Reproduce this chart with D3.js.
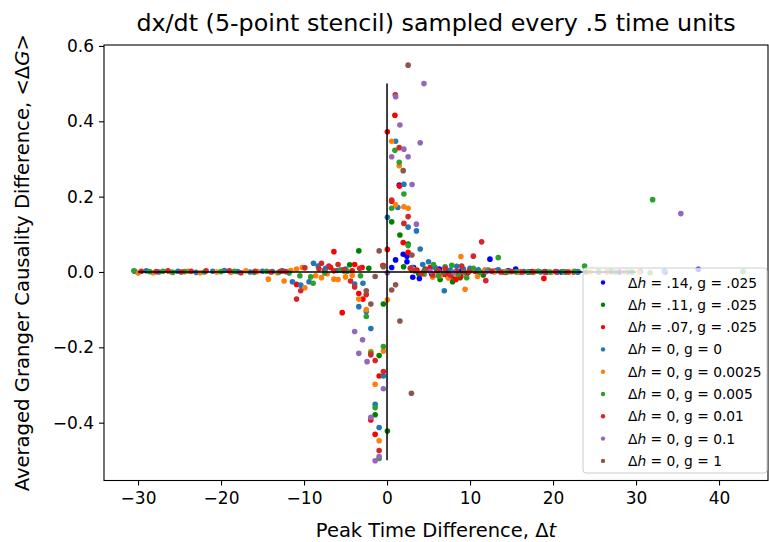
<!DOCTYPE html>
<html>
<head>
<meta charset="utf-8">
<script src="https://cdn.jsdelivr.net/npm/d3@7"></script>
<style>
  body { margin: 0; background: #fff; }
  text { font-family: "DejaVu Sans", sans-serif; }
</style>
</head>
<body>
<div id="chart"></div>
<script>

// peak time difference (x) vs averaged GC difference (y), one list per run
var ptsH14 = [[0.56,0.012],[1.03,0.032],[1.47,0.231],[1.95,0.047],[2.4,0.027],[2.4,0.042],[3.1,-0.014],[3.2,0.012],[3.9,-0.017],
  [4.6,0.004],[5.4,-0.006],[6.3,0.008],[7.2,0.002],[7.4,-0.011],[8.1,-0.01],[9.0,0.004],[10.2,0.006],[11.1,0.0],[12.4,0.034],
  [13.3,0.004],[14.6,0.003],[15.5,0.008],[16.0,0.0],[17.5,0.001],[19.2,0.0],[21.0,0.0],[23.0,0.0],[25.5,0.0],[28.0,0.0],
  [30.5,0.001],[33.5,0.0],[37.5,0.007]];

var ptsH11 = [[-5.2,0.003],[-4.5,0.019],[-3.4,0.056],[-2.2,0.01],[-0.44,-0.085],[-0.95,-0.222],[-1.43,-0.379],[0.04,-0.422],
  [0.56,0.133],[1.55,0.098],[2.54,0.074],[2.0,0.014],[3.0,0.005],[3.8,-0.004],[4.6,0.008],[5.5,-0.012],[6.4,-0.02],
  [7.3,-0.01],[7.9,-0.026],[8.8,-0.015],[9.6,-0.004],[10.5,0.005],[11.6,-0.008],[12.8,0.002],[14.0,0.0],[15.5,0.001],
  [17.2,0.0],[19.0,0.001],[21.5,0.0],[24.0,0.0],[27.0,0.001],[29.5,0.0]];

var ptsH07 = [[0.95,0.416],[0.04,0.372],[1.5,0.228],[0.56,0.188],[1.95,0.078],[2.54,0.052],[-6.4,0.054],[0.04,0.06],
  [-3.9,0.02],[-10.9,-0.033],[-5.4,-0.108],[-3.4,-0.057],[-2.9,-0.072],[-0.95,-0.276],[-1.95,-0.393],[-1.43,-0.431],
  [18.9,-0.017],[-7.5,0.005],[-6.8,0.012],[-4.2,0.003],[-3.0,0.012],[-0.5,0.017],[3.0,0.01],[3.6,0.005],[4.3,-0.002],
  [5.2,0.012],[6.0,0.003],[6.9,-0.006],[7.6,-0.014],[8.3,-0.02],[8.9,-0.012],[9.7,-0.003],[10.6,0.002],[11.7,0.0],
  [13.0,0.002],[14.3,-0.001],[15.7,0.001],[17.0,0.0],[20.5,0.0],[22.5,0.0]];

var ptsG0 = [[-30.4,0.002],[-29.0,0.003],[-27.5,0.0],[-25.2,0.002],[-23.0,-0.001],[-21.0,0.002],[-19.6,0.004],[-18.0,0.001],
  [-16.5,0.0],[-15.0,0.002],[-13.8,0.001],[-12.6,0.003],[-11.4,-0.026],[-10.4,-0.035],[-9.4,-0.026],[-8.86,0.023],
  [-8.3,0.016],[-7.4,0.01],[-6.0,0.004],[-5.0,0.008],[-3.9,-0.032],[-2.9,-0.03],[-3.4,-0.092],[-2.5,-0.105],[-1.95,-0.15],
  [-0.44,-0.276],[-1.43,-0.351],[-0.95,-0.413],[0.04,0.145],[1.03,0.347],[1.3,0.171],[2.03,0.233],[2.54,0.119],
  [3.54,0.109],[4.0,0.061],[5.0,0.027],[3.0,0.012],[4.3,0.02],[5.8,0.012],[6.9,-0.05],[7.6,0.005],[8.4,0.015],[9.2,0.008],
  [10.0,0.01],[11.0,0.006],[12.0,0.004],[13.4,0.006],[14.8,0.002],[16.5,0.001],[18.5,0.0],[20.5,0.0],[23.0,0.001],
  [26.5,0.001],[29.0,0.0],[33.4,0.003]];

var ptsG0025 = [[-30.0,-0.003],[-28.2,-0.002],[-26.0,0.0],[-24.0,0.002],[-22.5,-0.002],[-20.5,0.0],[-18.8,-0.001],[-17.0,0.003],
  [-15.6,0.001],[-14.3,-0.019],[-13.2,-0.002],[-12.4,-0.024],[-11.6,0.004],[-10.9,0.008],[-10.2,0.012],[-9.9,-0.042],
  [-8.6,-0.01],[-7.9,-0.015],[-7.2,-0.005],[-6.4,-0.019],[-5.9,-0.02],[-5.0,-0.013],[-4.2,-0.009],[-3.4,-0.072],
  [-2.5,-0.1],[-1.95,-0.211],[-0.44,-0.21],[-1.43,-0.298],[-0.95,-0.448],[0.04,-0.074],[0.56,0.347],[1.47,0.282],
  [1.03,0.178],[2.03,0.173],[2.54,0.169],[3.2,0.006],[4.5,-0.006],[5.5,-0.014],[6.4,-0.01],[7.4,-0.016],[8.2,-0.006],
  [8.9,0.041],[9.4,-0.046],[10.3,0.004],[10.9,-0.012],[11.8,0.006],[12.9,0.0],[14.3,0.002],[15.9,0.0],[17.8,0.001],
  [19.8,-0.001],[22.0,0.0],[24.5,0.0],[26.5,0.0],[28.5,0.0],[30.4,0.0]];

var ptsG005 = [[-30.5,0.003],[-28.6,0.001],[-27.0,0.002],[-25.8,-0.001],[-24.4,0.001],[-22.0,0.0],[-20.0,0.001],[-18.4,0.002],
  [-16.0,-0.001],[-14.5,0.002],[-13.0,0.0],[-11.8,-0.003],[-10.5,-0.01],[-9.2,-0.013],[-8.9,-0.03],[-7.5,-0.003],
  [-5.6,0.006],[-4.8,0.002],[-3.2,-0.01],[-2.5,-0.118],[-1.95,-0.215],[-0.44,-0.198],[-1.43,-0.36],[-0.95,-0.495],
  [0.95,0.323],[1.47,0.291],[0.56,0.169],[2.03,0.207],[2.54,0.07],[3.3,0.003],[4.4,-0.004],[5.6,0.02],[6.2,-0.01],
  [7.0,0.014],[7.8,0.018],[8.6,-0.006],[9.6,-0.015],[10.4,0.01],[11.2,0.0],[12.2,0.005],[13.4,0.038],[14.5,0.0],
  [15.5,0.001],[17.0,0.0],[18.2,0.002],[19.6,0.0],[21.2,0.001],[22.6,0.002],[23.8,0.016],[25.5,0.002],[27.5,0.0],
  [32.0,0.192],[31.7,-0.002],[42.9,0.001]];

var ptsG001 = [[-29.6,0.002],[-27.8,0.001],[-26.4,0.003],[-24.8,0.0],[-23.6,0.002],[-21.8,0.003],[-19.0,0.003],[-17.6,-0.002],
  [-15.9,0.002],[-14.0,0.0],[-12.8,0.002],[-12.2,0.001],[-10.9,-0.072],[-10.4,-0.05],[-9.9,0.011],[-8.2,0.008],
  [-7.9,0.023],[-7.0,0.016],[-6.4,0.003],[-5.9,0.02],[-5.2,0.006],[-4.4,-0.024],[-3.9,-0.04],[-3.3,0.01],[-2.5,-0.06],
  [-1.95,-0.22],[-1.43,-0.235],[-0.44,-0.264],[-0.95,-0.474],[-0.44,0.017],[1.0,0.47],[1.47,0.33],[0.56,0.191],
  [2.54,0.147],[2.03,0.129],[2.8,0.01],[3.4,0.004],[4.1,-0.004],[4.8,0.006],[5.5,-0.008],[6.2,0.004],[7.0,0.01],
  [7.6,-0.008],[8.4,0.002],[9.0,0.016],[9.9,0.002],[10.4,0.042],[11.4,0.08],[11.9,-0.023],[12.6,0.002],[13.7,0.0],
  [15.0,0.001],[16.3,0.0],[17.6,0.0],[19.0,0.0],[20.3,0.001],[21.8,0.0]];

var ptsG01 = [[1.04,0.465],[1.55,0.39],[4.45,0.5],[4.0,0.343],[2.03,0.326],[0.56,0.306],[2.54,0.306],[3.02,0.232],
  [3.54,0.127],[0.04,-0.002],[-3.9,-0.158],[-2.95,-0.18],[-3.4,-0.216],[-2.4,-0.238],[-0.44,-0.31],[-1.95,-0.386],
  [-0.95,-0.49],[-1.43,-0.501],[35.4,0.155],[5.2,0.002],[8.0,0.0],[12.0,0.001]];

var ptsG1 = [[2.54,0.549],[1.95,0.269],[-0.95,0.056],[-0.44,0.014],[3.0,0.045],[0.56,-0.048],[1.03,-0.034],[1.55,-0.13],
  [2.94,-0.322],[-1.95,-0.085],[-2.5,-0.05],[-1.43,-0.012],[4.5,0.004],[6.8,-0.002],[9.2,0.0]];

var seriesNames = ["Δh = .14, g = .025", "Δh = .11, g = .025", "Δh = .07, g = .025", "Δh = 0, g = 0",
  "Δh = 0, g = 0.0025", "Δh = 0, g = 0.005", "Δh = 0, g = 0.01", "Δh = 0, g = 0.1", "Δh = 0, g = 1"];

var xTicks = [-30, -20, -10, 0, 10, 20, 30, 40];
var yTicks = [-0.4, -0.2, 0.0, 0.2, 0.4, 0.6];

var allSeries = [ptsH14, ptsH11, ptsH07, ptsG0, ptsG0025, ptsG005, ptsG001, ptsG01, ptsG1];
var colors = ["#0000ff", "#008000", "#ff0000", "#1f77b4", "#ff7f0e", "#2ca02c", "#d62728", "#9467bd", "#8c564b"];

var width = 769, height = 542;
var margin = {left: 104, right: 1, top: 45, bottom: 61.5};

var x = d3.scaleLinear().domain([-34.1, 45.9]).range([margin.left, width - margin.right]);
var y = d3.scaleLinear().domain([-0.5535, 0.6025]).range([height - margin.bottom, margin.top]);

var svg = d3.select("#chart").append("svg")
    .attr("width", width)
    .attr("height", height)
    .style("background", "#fff");

// points
allSeries.forEach(function (pts, i) {
    svg.append("g").selectAll("circle")
        .data(pts)
        .enter().append("circle")
        .attr("cx", function (d) { return x(d[0]); })
        .attr("cy", function (d) { return y(d[1]); })
        .attr("r", 2.8)
        .attr("fill", colors[i]);
});

// reference cross
svg.append("line")
    .attr("x1", x(-30)).attr("x2", x(30))
    .attr("y1", y(0)).attr("y2", y(0))
    .attr("stroke", "#000").attr("stroke-width", 1.5);
svg.append("line")
    .attr("x1", x(0)).attr("x2", x(0))
    .attr("y1", y(-0.5)).attr("y2", y(0.5))
    .attr("stroke", "#000").attr("stroke-width", 1.5);

// axes
var xAxis = d3.axisBottom(x).tickValues(xTicks).tickSizeOuter(0).tickSize(5).tickPadding(6)
    .tickFormat(function (d) { return d < 0 ? "\u2212" + Math.abs(d) : d; });
var yAxis = d3.axisLeft(y).tickValues(yTicks).tickSizeOuter(0).tickSize(5).tickPadding(5)
    .tickFormat(function (d) { var s = d3.format(".1f")(Math.abs(d)); return d < 0 ? "\u2212" + s : s; });

var gx = svg.append("g").attr("transform", "translate(0," + (height - margin.bottom) + ")").call(xAxis);
var gy = svg.append("g").attr("transform", "translate(" + margin.left + ",0)").call(yAxis);
[gx, gy].forEach(function (g) {
    g.select(".domain").remove();
    g.selectAll(".tick line").attr("stroke", "#000").attr("stroke-width", 1.1);
    g.selectAll(".tick text").attr("fill", "#000").style("font-size", "17px").style("font-family", "DejaVu Sans");
});

// frame
svg.append("rect")
    .attr("x", margin.left).attr("y", margin.top)
    .attr("width", width - margin.right - margin.left)
    .attr("height", height - margin.bottom - margin.top)
    .attr("fill", "none").attr("stroke", "#000").attr("stroke-width", 1.1);

// title and labels
svg.append("text")
    .attr("x", (margin.left + width - margin.right) / 2).attr("y", 31)
    .attr("text-anchor", "middle").style("font-size", "23.8px")
    .text("dx/dt (5-point stencil) sampled every .5 time units");

var xl = svg.append("text")
    .attr("x", (margin.left + width - margin.right) / 2).attr("y", 537)
    .attr("text-anchor", "middle").style("font-size", "19.5px");
xl.append("tspan").text("Peak Time Difference, Δ");
xl.append("tspan").style("font-style", "italic").text("t");

var yl = svg.append("text")
    .attr("transform", "translate(29," + ((margin.top + height - margin.bottom) / 2) + ") rotate(-90)")
    .attr("text-anchor", "middle").style("font-size", "19.6px");
yl.append("tspan").text("Averaged Granger Causality Difference, <Δ");
yl.append("tspan").style("font-style", "italic").text("G");
yl.append("tspan").text(">");

// legend
var lg = svg.append("g").attr("transform", "translate(583,268)");
lg.append("rect")
    .attr("width", 184).attr("height", 205).attr("rx", 3)
    .attr("fill", "#fff").attr("fill-opacity", 0.8)
    .attr("stroke", "#ccc").attr("stroke-width", 1);
seriesNames.forEach(function (name, i) {
    var row = lg.append("g").attr("transform", "translate(0," + (14.5 + i * 22.3) + ")");
    row.append("circle").attr("cx", 20).attr("cy", 0).attr("r", 2.2).attr("fill", colors[i]);
    var t = row.append("text").attr("x", 45).attr("y", 5).style("font-size", "13.8px");
    var rest = name.slice(2);
    t.append("tspan").text("Δ");
    t.append("tspan").style("font-style", "italic").text("h");
    t.append("tspan").text(rest);
});

</script>
</body>
</html>
